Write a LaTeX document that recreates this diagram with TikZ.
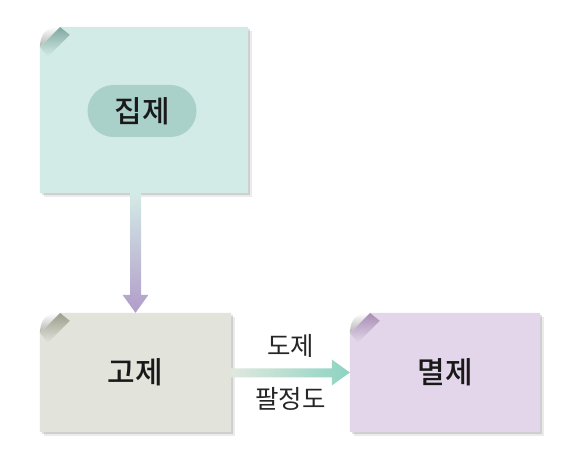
\documentclass[tikz,border=0pt]{standalone}
\usepackage{fontspec}
\setmainfont{Noto Sans CJK KR}
\newfontfamily\titlefont{Noto Sans CJK KR Medium}
\usetikzlibrary{calc}

\definecolor{jipbg}{HTML}{D3EBE6}
\definecolor{jipfold}{HTML}{7FA8A0}
\definecolor{pillbg}{HTML}{A9D0C9}
\definecolor{gobg}{HTML}{E2E3DA}
\definecolor{gofold}{HTML}{9A9C8C}
\definecolor{myeolbg}{HTML}{E3D6EA}
\definecolor{myeolfold}{HTML}{A68CB2}
\definecolor{downarrow}{HTML}{B19CC9}
\definecolor{rightarrow}{HTML}{8DD3C2}
\definecolor{rightlight}{HTML}{E0E8DE}

% paper sheet with shadow and curled corner: name, fill, fold colour
\newcommand{\notepaper}[3]{
  \fill[black, opacity=.08] ([shift={(4,-4)}]#1.south west) rectangle ([shift={(4,-4)}]#1.north east);
  \fill[black, opacity=.12] ([shift={(2,-2)}]#1.south west) rectangle ([shift={(2,-2)}]#1.north east);
  \fill[#2] ([yshift=-20]#1.north west) -- ([xshift=20]#1.north west) -- (#1.north east)
    -- (#1.south east) -- (#1.south west) -- cycle;
  \shade[shading angle=45, top color=#3, bottom color=#2] ([yshift=-20]#1.north west)
    -- ([xshift=20]#1.north west) -- ([shift={(30,-8)}]#1.north west) -- ([shift={(8,-30)}]#1.north west) -- cycle;
  \fill[white] ([yshift=-20]#1.north west) -- (#1.north west) -- ([xshift=20]#1.north west) -- cycle;
  \shade[shading angle=-135, top color=white, bottom color=black!30] ([yshift=-20]#1.north west)
    .. controls ([shift={(1,-6)}]#1.north west) and ([shift={(6,-1)}]#1.north west) .. ([xshift=20]#1.north west) -- cycle;
}

\begin{document}
\begin{tikzpicture}[x=1pt,y=1pt,
    sheet/.style={minimum width=#1, inner sep=0pt},
    title/.style={font=\titlefont\fontsize{30}{32}\selectfont, text=black!90},
    lbl/.style={font=\fontsize{25.5}{27}\selectfont, text=black!85}]

  \useasboundingbox (0,0) rectangle (576,473);

  \node[sheet=208, minimum height=166] (jip) at (144,363) {};
  \node[sheet=191, minimum height=119] (go) at (135.5,100.5) {};
  \node[sheet=190, minimum height=119] (myeol) at (445,100.5) {};

  \notepaper{jip}{jipbg}{jipfold}
  \notepaper{go}{gobg}{gofold}
  \notepaper{myeol}{myeolbg}{myeolfold}

  \node[fill=pillbg, rounded corners=26, minimum width=109, minimum height=52, title] (jipname) at (142,362) {집제};
  \node[title] (goname) at (go) {고제};
  \node[title] (myeolname) at (myeol) {멸제};

  % arrows
  \shade[top color=jipbg, bottom color=downarrow]
    ($(go.north |- jip.south)+(-5.5,0)$) -- ($(go.north |- jip.south)+(5.5,0)$)
    -- ($(go.north)+(5.5,18)$) -- ($(go.north)+(13,18)$) -- (go.north)
    -- ($(go.north)+(-13,18)$) -- ($(go.north)+(-5.5,18)$) -- cycle;
  \shade[left color=rightlight, right color=rightarrow]
    ($(go.east)+(0,4)$) -- ($(myeol.west)+(-18,4)$) -- ($(myeol.west)+(-18,13)$)
    -- ($(myeol.west)+(0,0)$) -- ($(myeol.west)+(-18,-13)$) -- ($(myeol.west)+(-18,-5)$)
    -- ($(go.east)+(0,-5)$) -- cycle;

  \path (go) -- node[above=11, lbl] (dojelbl) {도제} node[below=11, lbl] (palbl) {팔정도} (myeol);
\end{tikzpicture}
\end{document}
